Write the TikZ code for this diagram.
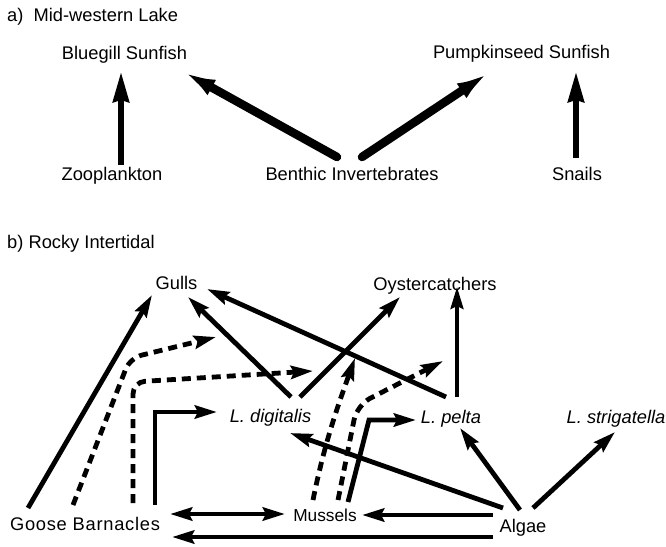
\documentclass[tikz,border=0pt]{standalone}
\usepackage{fontspec}
\setmainfont{Liberation Sans}
\usetikzlibrary{arrows.meta,calc}
\tikzset{
  lbl/.style={anchor=base,inner sep=0pt,font=\fontsize{18.3}{20}\selectfont},
  ilbl/.style={lbl,font=\fontsize{18.3}{20}\selectfont\itshape},
  bigarrow/.style={line width=8.5pt,line cap=round,-{Latex[length=34pt,width=17pt]}},
  uparrow/.style={line width=5.5pt,-{Stealth[length=30pt,width=16pt,inset=2pt]}},
  hd/.tip={Stealth[length=22pt,width=13pt,inset=3pt]},
  link/.style={line width=4.8pt,-hd},
  thinlink/.style={line width=3.5pt,-hd},
  dlink/.style={line width=4.8pt,hd-hd},
  indirect/.style={line width=4.8pt,dash pattern=on 9pt off 6pt,-hd},
}
\begin{document}
\begin{tikzpicture}[x=1pt,y=-1pt]
\useasboundingbox (0,0) rectangle (666,546);
% ---------- part a ----------
\node[lbl,anchor=base west] (ha) at (7,21) {a)\ \ Mid-western Lake};
\node[lbl] (blue) at (124.5,59) {Bluegill Sunfish};
\node[lbl] (pump) at (521.5,58) {Pumpkinseed Sunfish};
\node[lbl] (zoo) at (112,180) {Zooplankton};
\node[lbl] (ben) at (352,180) {Benthic Invertebrates};
\node[lbl] (snl) at (577,180) {Snails};
\draw[uparrow] ($(zoo.base)+(9,-15)$) -- ($(blue.base)+(-3.5,13)$);
\draw[bigarrow] ($(ben.base)+(-15,-23)$) -- ($(blue.base)+(57.5,12)$);
\draw[bigarrow] ($(ben.base)+(10,-23)$) -- ($(pump.base)+(-31.5,14)$);
\draw[uparrow] ($(snl.base)+(-1,-22)$) -- ($(pump.base)+(54.5,14)$);
% ---------- part b ----------
\node[lbl,anchor=base west] (hb) at (7,248) {b) Rocky Intertidal};
\node[lbl] (gulls) at (176.5,289) {Gulls};
\node[lbl] (oys) at (435,290) {Oystercatchers};
\node[ilbl] (dig) at (270.5,422) {L. digitalis};
\node[ilbl] (pel) at (451,423) {L. pelta};
\node[ilbl] (str) at (616,423) {L. strigatella};
\node[lbl,font=\fontsize{18.3}{20}\selectfont\addfontfeatures{LetterSpace=4}] (goose) at (85,530) {Goose Barnacles};
\node[lbl,font=\fontsize{17.3}{20}\selectfont] (mus) at (325,521) {Mussels};
\node[lbl] (alg) at (523,532) {Algae};
\coordinate (ind1) at (216,337);
\coordinate (ind2) at (313,371);
\coordinate (ind3) at (355,358);
\coordinate (ind4) at (443,361);
% direct links
\draw[link] ($(goose.base)+(-57,-22)$) -- ($(gulls.base)+(-24.5,6)$);
\draw[link] ($(goose.base)+(70,-25)$) -- ($(goose.base)+(70,-118)$) -- ($(dig.base)+(-53.5,-10)$);
\draw[link] ($(dig.base)+(20.5,-25)$) -- ($(gulls.base)+(11.5,8)$);
\draw[link] ($(pel.base)+(-5,-26)$) -- ($(gulls.base)+(30.5,0)$);
\draw[link] ($(dig.base)+(29.5,-25)$) -- ($(oys.base)+(-35,7)$);
\draw[thinlink] ($(pel.base)+(6,-26)$) -- ($(oys.base)+(22,-3)$);
\draw[link] ($(mus.base)+(23,-19)$) -- ($(mus.base)+(44,-101)$) -- ($(pel.base)+(-35,-3)$);
\draw[link] ($(alg.base)+(-20,-24)$) -- ($(dig.base)+(19.5,11)$);
\draw[link] ($(alg.base)+(-3,-22)$) -- ($(pel.base)+(9,5)$);
\draw[link] ($(alg.base)+(10,-24)$) -- ($(str.base)+(-1,9)$);
\draw[link] ($(alg.base)+(-30,-17)$) -- ($(mus.base)+(37,-6)$);
\draw[dlink] ($(goose.base)+(85,-16)$) -- ($(mus.base)+(-40,-7)$);
\draw[link] ($(alg.base)+(-30,5)$) -- ($(goose.base)+(87,7)$);
% indirect effects
\draw[indirect,rounded corners=12pt] ($(goose.base)+(-12,-25)$) -- ($(goose.base)+(45,-172)$) -- (ind1);
\draw[indirect,rounded corners=12pt] ($(goose.base)+(48,-27)$) -- ($(goose.base)+(48,-148)$) -- (ind2);
\draw[indirect] ($(mus.base)+(-12,-21)$) .. controls ($(mus.base)+(0,-81)$) and ($(mus.base)+(15,-121)$) .. (ind3);
\draw[indirect,rounded corners=15pt] ($(mus.base)+(13,-21)$) -- ($(mus.base)+(32,-116)$) -- (ind4);
\end{tikzpicture}
\end{document}
